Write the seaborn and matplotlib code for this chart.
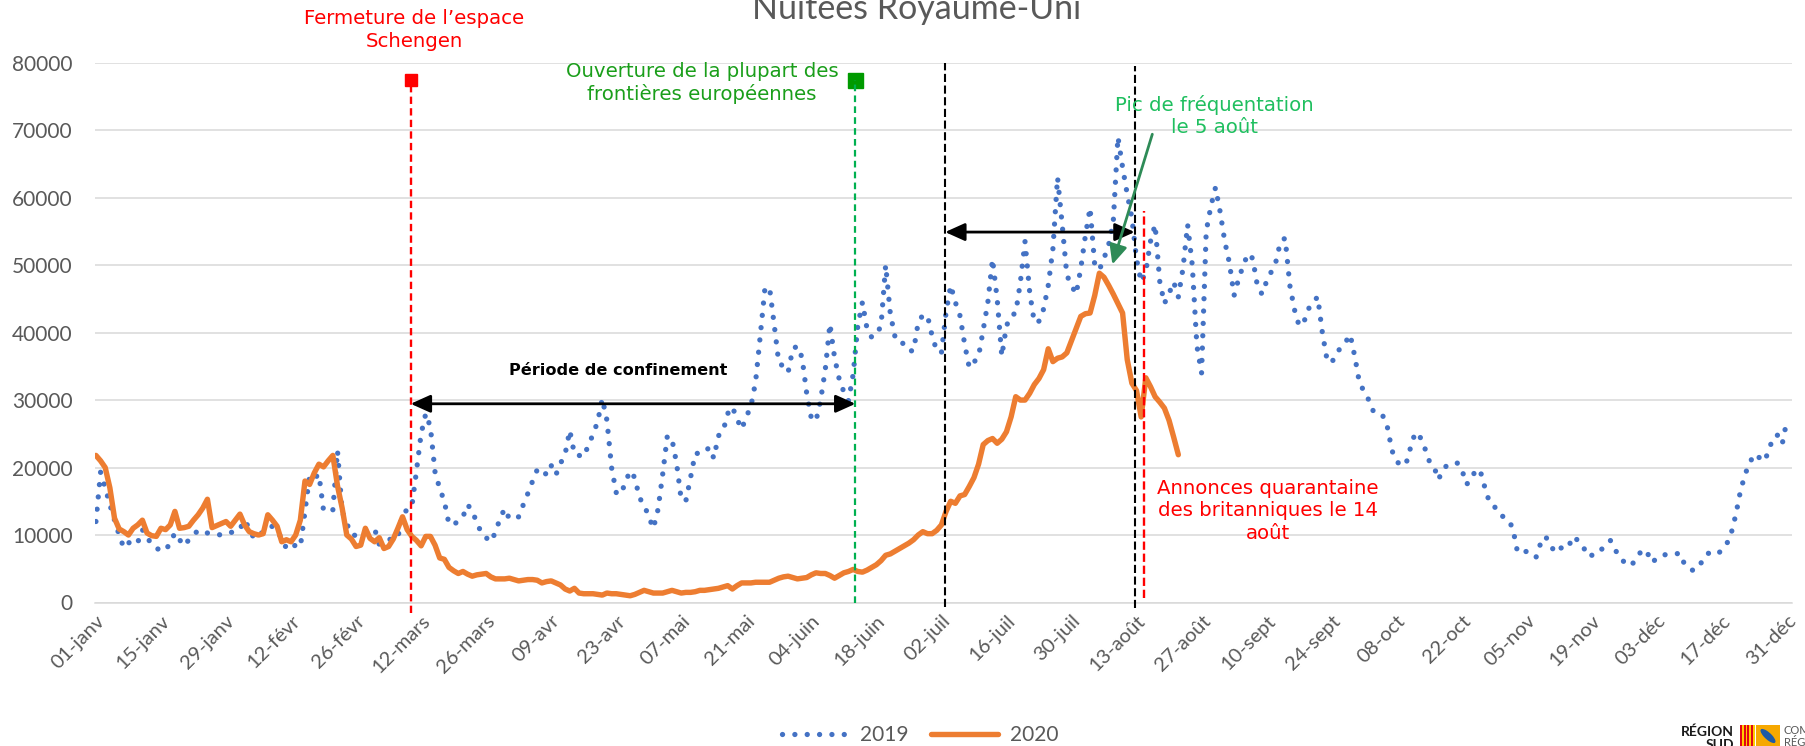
import matplotlib

matplotlib.use("Agg")
import matplotlib.pyplot as plt
import numpy as np
import pandas as pd
import seaborn as sns
from matplotlib.patches import Ellipse, Rectangle

sns.set_style("white")
plt.rcParams["font.family"] = ["Lato", "DejaVu Sans"]

# Nuitées journalières (axe calé sur le calendrier 2019)
nuitees_2019 = [
    12000, 19300, 17000, 14500, 12200, 10000, 8100, 8800, 9300, 8900,
    10800, 9500, 8800, 8000, 7800, 7700, 8900, 10300, 9300, 8400,
    9300, 10000, 10700, 10500, 10300, 10200, 10100, 10000, 10200, 10400,
    10400, 10900, 12200, 11000, 9500, 9900, 10500, 11000, 11300, 10400,
    9600, 8000, 8600, 8400, 8200, 13500, 18800, 18400, 19000, 13600,
    13600, 13700, 22500, 13500, 11700, 10100, 9900, 10100, 10400, 10700,
    10900, 8600, 8900, 9300, 9500, 9600, 13200, 13700, 14200, 19500,
    25000, 28000, 26000, 19300, 16900, 15000, 11600, 11600, 12000, 12700,
    14500, 13600, 11800, 10300, 9600, 9000, 10400, 12500, 13900, 12400,
    12500, 12700, 14500, 16200, 18000, 19700, 19800, 18900, 20300, 18900,
    20600, 22000, 25500, 22000, 21800, 21600, 23300, 24900, 26800, 30200,
    27000, 20000, 16300, 16000, 17900, 19500, 18500, 15500, 14500, 12700,
    11000, 13800, 19000, 24700, 24200, 20600, 15200, 15100, 18500, 22100,
    22100, 22200, 23000, 21400, 24700, 25400, 28000, 29000, 27200, 25700,
    27500, 29100, 32700, 39500, 46500, 46700, 41200, 35500, 35000, 34100,
    37600, 38000, 36300, 31000, 27300, 26900, 30000, 34500, 41300, 36300,
    33100, 31200, 29900, 33800, 41000, 44500, 40500, 39300, 39700, 41000,
    50000, 42800, 39400, 39300, 38000, 37300, 37300, 41500, 42600, 42500,
    39500, 37300, 37000, 43000, 47000, 44500, 42500, 38300, 34800, 35600,
    36500, 40400, 44500, 50900, 45000, 36500, 41000, 42500, 42900, 47500,
    53500, 46000, 41500, 41700, 43500, 47000, 52400, 63000, 56000, 48500,
    47000, 45700, 49500, 54400, 58500, 50000, 49300, 51000, 53000, 56500,
    69000, 64500, 60500, 57000, 50900, 47500, 49000, 53500, 56000, 47600,
    44300, 45800, 47500, 45300, 49500, 56000, 50000, 38000, 34000, 55000,
    58700, 61500, 57900, 53500, 50300, 45500, 48000, 50000, 51700, 51000,
    47000, 45700, 47600, 49000, 50500, 53500, 54000, 47000, 43400, 41000,
    41500, 43500, 44500, 45300, 40000, 36000, 35500, 36900, 37800, 38600,
    39700, 36400, 32500, 31300, 30000, 28300, 27800, 27700, 26000, 22500,
    20900, 20300, 20500, 23000, 25200, 24600, 23000, 21000, 20200, 18200,
    19800, 20400, 20600, 20700, 19800, 17500, 18100, 19700, 19500, 17000,
    14800, 14300, 13100, 12700, 12300, 11000, 7500, 7300, 7600, 7100,
    6700, 8800, 9800, 8800, 7400, 7800, 8500, 8300, 9800, 9200,
    8600, 6900, 7000, 7100, 7800, 8500, 9200, 7900, 6600, 6000,
    5400, 5900, 7000, 7900, 7300, 5900, 6600, 7000, 7100, 7100,
    7200, 7300, 5600, 5000, 4700, 5500, 6200, 7300, 7200, 7100,
    7800, 8600, 10200, 13000, 16500, 19000, 20700, 22000, 21500, 20900,
    22200, 24500, 24800, 23500, 27000,
]

nuitees_2020 = [
    21800, 21000, 20000, 17000, 12500, 10900, 10500, 10000, 11000, 11500,
    12200, 10300, 9900, 9800, 11000, 10800, 11500, 13500, 11000, 11100,
    11300, 12200, 13000, 14000, 15300, 11100, 11400, 11700, 12000, 11300,
    12200, 13100, 11500, 10500, 10200, 10000, 10200, 13000, 12200, 11300,
    9000, 9300, 9000, 10000, 12200, 18000, 17500, 19200, 20500, 20100,
    21000, 21800, 17300, 14000, 10000, 9400, 8300, 8500, 11000, 9500,
    9000, 9600, 8000, 8300, 9400, 11000, 12700, 10800, 9800, 9200,
    8400, 9800, 9800, 8500, 6600, 6400, 5200, 4700, 4300, 4600,
    4200, 3900, 4100, 4200, 4300, 3800, 3500, 3500, 3500, 3600,
    3400, 3200, 3300, 3400, 3400, 3300, 2900, 3100, 3200, 2900,
    2600, 2000, 1700, 2100, 1400, 1300, 1300, 1300, 1200, 1100,
    1400, 1300, 1300, 1200, 1100, 1000, 1200, 1500, 1800, 1600,
    1400, 1400, 1400, 1600, 1800, 1600, 1400, 1500, 1500, 1600,
    1800, 1800, 1900, 2000, 2100, 2300, 2500, 2000, 2500, 2900,
    2900, 2900, 3000, 3000, 3000, 3000, 3300, 3600, 3800, 3900,
    3700, 3500, 3600, 3700, 4100, 4400, 4300, 4300, 4000, 3600,
    4000, 4400, 4600, 4900, 4600, 4500, 4800, 5200, 5600, 6200,
    7000, 7200, 7600, 8000, 8400, 8800, 9300, 10000, 10500, 10200,
    10200, 10700, 11500, 13500, 15000, 14700, 15800, 16000, 17200, 18500,
    20500, 23400, 24000, 24300, 23600, 24200, 25300, 27500, 30500, 30000,
    30000, 31000, 32300, 33200, 34500, 37600, 35700, 36200, 36400, 37000,
    38800, 40600, 42400, 42800, 42900, 45500, 48800, 48200, 47000, 45700,
    44300, 42900, 36000, 32500, 31400, 27500, 33300, 32000, 30500, 29700,
    28800, 27000, 24500, 21900,
]

tick_labels = [
    "01-janv", "15-janv", "29-janv", "12-févr", "26-févr", "12-mars", "26-mars",
    "09-avr", "23-avr", "07-mai", "21-mai", "04-juin", "18-juin", "02-juil",
    "16-juil", "30-juil", "13-août", "27-août", "10-sept", "24-sept", "08-oct",
    "22-oct", "05-nov", "19-nov", "03-déc", "17-déc", "31-déc",
]

# repères (jour de l'année)
jour_schengen = 67.75
jour_ouverture = 163.5
jour_debut_juillet = 182.8
jour_pic_fin = 223.6
jour_quarantaine = 225.7

BLUE = "#4472C4"
ORANGE = "#ED7D31"
GRID = "#D9D9D9"
TXT = "#595959"
RED = "#FF0000"

W, H = 1806, 746
fig = plt.figure(figsize=(W / 100, H / 100), dpi=100)
ax = fig.add_axes([95 / W, 1 - 602.5 / H, (1792 - 95) / W, (602.5 - 62.7) / H])

df19 = pd.DataFrame({"jour": np.arange(len(nuitees_2019)), "nuitees": nuitees_2019})
df20 = pd.DataFrame({"jour": np.arange(len(nuitees_2020)), "nuitees": nuitees_2020})

sns.lineplot(data=df19, x="jour", y="nuitees", ax=ax, color=BLUE, lw=3.8,
             linestyle=(0, (0.01, 2.33)), dash_capstyle="round", label="2019",
             zorder=3)
sns.lineplot(data=df20, x="jour", y="nuitees", ax=ax, color=ORANGE, lw=3.9,
             solid_joinstyle="round", solid_capstyle="round", label="2020",
             zorder=4)

ax.set_xlim(-0.2, 365.1)
ax.set_ylim(0, 80000)
ax.set_xlabel("")
ax.set_ylabel("")

yt = list(range(0, 80001, 10000))
ax.set_yticks(yt)
ax.set_yticklabels([str(v) for v in yt], fontsize=15, color=TXT)
ax.tick_params(axis="y", length=0, pad=16)

xt = list(range(0, 365, 14))
ax.set_xticks(xt)
ax.set_xticklabels(tick_labels, fontsize=14.5, color=TXT, rotation=45,
                   ha="right", va="top", rotation_mode="anchor")
ax.tick_params(axis="x", direction="out", length=5, width=1.1, color=GRID, pad=2)

ax.yaxis.grid(True, color=GRID, lw=1.1)
ax.set_axisbelow(True)
for s in ["left", "right", "top"]:
    ax.spines[s].set_visible(False)
ax.spines["bottom"].set_color(GRID)
ax.spines["bottom"].set_linewidth(1.1)

# lignes verticales des événements
ax.plot([jour_schengen] * 2, [-1500, 77400], color=RED, lw=1.7,
        linestyle=(0, (3.1, 1.8)), clip_on=False, zorder=6)
ax.plot([jour_schengen], [77400], marker="s", ms=8.6, color=RED, clip_on=False, zorder=6)
ax.plot([jour_ouverture], [77500], marker="s", ms=10.8, color="#009A00", clip_on=False, zorder=6)
ax.plot([jour_ouverture] * 2, [0, 77500], color="#00B050", lw=1.6,
        linestyle=(0, (3.0, 1.9)), clip_on=False, zorder=7)
ax.plot([jour_debut_juillet] * 2, [-700, 80000], color="black", lw=1.5,
        linestyle=(0, (3.9, 1.7)), clip_on=False, zorder=6)
ax.plot([jour_pic_fin] * 2, [-800, 79500], color="black", lw=1.5,
        linestyle=(0, (3.9, 1.7)), clip_on=False, zorder=6)
ax.plot([jour_quarantaine] * 2, [600, 58000], color=RED, lw=1.7,
        linestyle=(0, (3.5, 1.6)), clip_on=False, zorder=6)

# flèches
arrow_kw = dict(arrowstyle="<|-|>,head_length=0.6,head_width=0.27", color="black",
                lw=2.0, mutation_scale=20, shrinkA=0, shrinkB=0)
ax.annotate("", xy=(jour_ouverture, 29450), xytext=(jour_schengen, 29450),
            arrowprops=arrow_kw, zorder=8)
ax.annotate("", xy=(jour_pic_fin, 54900), xytext=(jour_debut_juillet, 54900),
            arrowprops=arrow_kw, zorder=8)
ax.annotate("", xy=(218.8, 50100), xytext=(227.4, 69400),
            arrowprops=dict(arrowstyle="-|>,head_length=0.65,head_width=0.3",
                            color="#2E8B57", lw=2.0, mutation_scale=18,
                            shrinkA=0, shrinkB=0), zorder=8)

# textes
ann = dict(ha="center", va="center", multialignment="center", fontsize=14.2,
           family="DejaVu Sans", linespacing=1.22, zorder=9)
ax.text(68.5, 84850, "Fermeture de l\u2019espace\nSchengen", color=RED, **ann)
ax.text(130.5, 77000, "Ouverture de la plupart des\nfrontières européennes",
        color="#1A9E1A", **ann)
ax.text(240.8, 72100, "Pic de fréquentation\nle 5 août", color="#1FBF5F", **ann)
ax.text(252.3, 13600, "Annonces quarantaine\ndes britanniques le 14\naoût",
        color=RED, **ann)
ax.text(112.4, 34400, "Période de confinement", ha="center", va="center",
        fontsize=11.6, fontweight="bold", family="DejaVu Sans", color="black", zorder=9)

fig.text(917 / W, 1 - 19 / H, "Nuitées Royaume-Uni", ha="center", va="baseline",
         fontsize=24.5, color=TXT)

# légende
handles, labels = ax.get_legend_handles_labels()
if ax.get_legend() is not None:
    ax.get_legend().remove()
fig.legend(handles, labels, loc="center", bbox_to_anchor=(920 / W, 1 - 735 / H),
           ncol=2, frameon=False, fontsize=15, labelcolor=TXT, handlelength=3.2,
           handletextpad=0.55, columnspacing=1.1)

# logo Région Sud (coin inférieur droit)
def fx(px):
    return px / W


def fy(py):
    return 1 - py / H


fig.text(fx(1707.5), fy(731.5), "RÉGION", ha="center", va="center", fontsize=10,
         fontweight="bold", color="#1a1a1a")
fig.text(fx(1720), fy(745), "SUD", ha="center", va="center", fontsize=10,
         fontweight="bold", color="#1a1a1a")
stripe_w = 15 / 8
for i in range(8):
    c = "#E30613" if i % 2 == 0 else "#FFCC00"
    fig.add_artist(Rectangle((fx(1740 + i * stripe_w), fy(746)), stripe_w / W, 21 / H,
                             transform=fig.transFigure, color=c, lw=0))
fig.add_artist(Rectangle((fx(1756), fy(746)), 24 / W, 21 / H,
                         transform=fig.transFigure, color="#F6A800", lw=0))
fig.add_artist(Ellipse((fx(1768), fy(736)), 9 / W, 15 / H, angle=20,
                       transform=fig.transFigure, color="#1F5AA6", lw=0))
fig.text(fx(1784), fy(731), "COM", ha="left", va="center", fontsize=8, color=TXT)
fig.text(fx(1784), fy(742), "RÉG", ha="left", va="center", fontsize=8, color=TXT)

fig.savefig("out.png", dpi=100, facecolor="white")
